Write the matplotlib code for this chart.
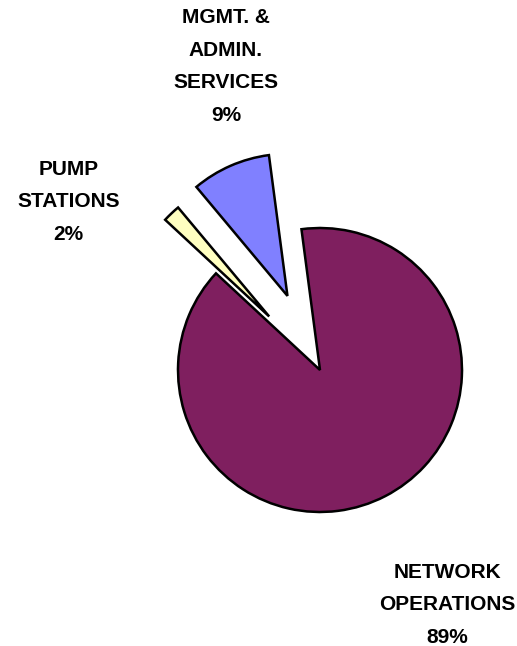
import matplotlib
matplotlib.use('Agg')
import matplotlib.pyplot as plt

# slices, in drawing order (counter clockwise from the top)
names = ['MGMT. &\nADMIN.\nSERVICES', 'PUMP\nSTATIONS', 'NETWORK\nOPERATIONS']
values = [9, 2, 89]
colors = ['#8080FF', '#FFFFC0', '#7F1F5F']
explode = [0.57, 0.52, 0.0]

# label centres as figure fractions
label_pos = [(0.437, 0.897), (0.133, 0.688), (0.865, 0.064)]

W, H = 517, 646
cx, cy, R = 320, 370, 142   # pie centre and radius in pixels

fig = plt.figure(figsize=(W / 100, H / 100), dpi=100)
ax = fig.add_axes([0, 0, 1, 1])

ax.pie(values, colors=colors, explode=explode, startangle=97.5,
       counterclock=True, radius=1,
       wedgeprops=dict(edgecolor='black', linewidth=1.8, joinstyle='miter'))
ax.set_xlim(-cx / R, (W - cx) / R)
ax.set_ylim(-(H - cy) / R, cy / R)
ax.set_aspect('auto')
ax.axis('off')

total = sum(values)
for name, v, (fx, fy) in zip(names, values, label_pos):
    txt = name + '\n' + '%d%%' % round(v * 100.0 / total)
    fig.text(fx, fy, txt, ha='center', va='center', fontsize=15,
             fontweight='bold', linespacing=1.9,
             family=['Liberation Sans', 'DejaVu Sans'])

fig.savefig('out.png', dpi=100)
